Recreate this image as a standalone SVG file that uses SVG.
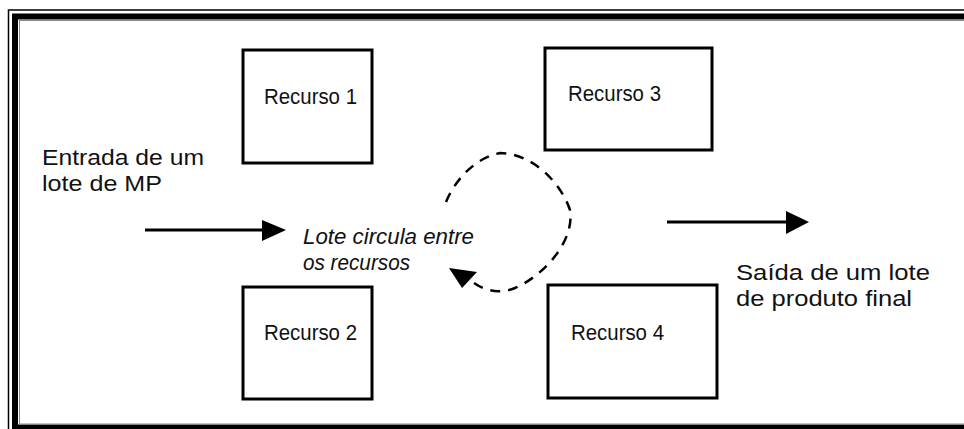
<svg xmlns="http://www.w3.org/2000/svg" width="964" height="429" viewBox="0 0 964 429">
<style>
.box{fill:#fff;stroke:#000;stroke-width:3}
.t{font-family:"Liberation Sans",Arial,sans-serif;font-size:22px;fill:#111}
.ti{font-family:"Liberation Sans",Arial,sans-serif;font-size:22px;font-style:italic;fill:#111}
.ln{stroke:#000;stroke-width:3;fill:none}
</style>
<rect width="964" height="429" fill="#fff"/>
<g id="frame">
<rect x="8.5" y="10" width="980" height="440" fill="none" stroke="#000" stroke-width="1.5"/>
<rect x="15" y="16.5" width="980" height="411" fill="none" stroke="#000" stroke-width="6"/>
<rect x="19.5" y="20.5" width="980" height="403.5" fill="none" stroke="#888" stroke-width="1"/>
</g>
<g id="recurso1"><rect class="box" x="243" y="50" width="129" height="113"/><text class="t" x="264" y="104" textLength="93" lengthAdjust="spacingAndGlyphs">Recurso 1</text></g>
<g id="recurso3"><rect class="box" x="545" y="48" width="167" height="102"/><text class="t" x="568" y="101" textLength="93" lengthAdjust="spacingAndGlyphs">Recurso 3</text></g>
<g id="recurso2"><rect class="box" x="243" y="287" width="129" height="112"/><text class="t" x="264" y="340" textLength="93" lengthAdjust="spacingAndGlyphs">Recurso 2</text></g>
<g id="recurso4"><rect class="box" x="548" y="285" width="169" height="113"/><text class="t" x="571" y="340" textLength="93" lengthAdjust="spacingAndGlyphs">Recurso 4</text></g>
<g id="entrada"><text class="t" x="42" y="165" textLength="162" lengthAdjust="spacingAndGlyphs">Entrada de um</text><text class="t" x="42" y="191" textLength="120" lengthAdjust="spacingAndGlyphs">lote de MP</text></g>
<g id="saida"><text class="t" x="736" y="280" textLength="194" lengthAdjust="spacingAndGlyphs">Saída de um lote</text><text class="t" x="736" y="306" textLength="176" lengthAdjust="spacingAndGlyphs">de produto final</text></g>
<g id="lote"><text class="ti" x="303" y="244" textLength="171" lengthAdjust="spacingAndGlyphs">Lote circula entre</text><text class="ti" x="303" y="270" textLength="107" lengthAdjust="spacingAndGlyphs">os recursos</text></g>
<g id="connectors">
<line class="ln" x1="145" y1="230" x2="262" y2="230"/>
<path d="M262,220 L286,230 L262,241 Z" fill="#000"/>
<line class="ln" x1="667" y1="222" x2="786" y2="222"/>
<path d="M786,211 L809,222 L786,234 Z" fill="#000"/>
<path d="M446,202 C455,180 475,158 500,153 C530,153 560,180 570,210 C575,240 545,275 515,288 C500,294 485,292 470,280" fill="none" stroke="#000" stroke-width="2.5" stroke-dasharray="10,8"/>
<path d="M449,268 L477,272 L462,288 Z" fill="#000"/>
</g>
</svg>
